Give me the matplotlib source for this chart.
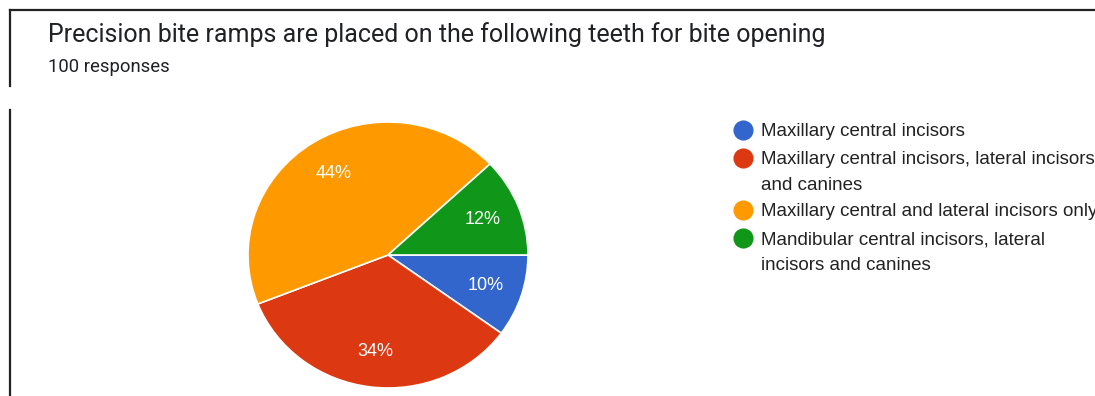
import matplotlib
matplotlib.use("Agg")
import matplotlib.pyplot as plt
from matplotlib.lines import Line2D

W, H = 1095, 396
title = "Precision bite ramps are placed on the following teeth for bite opening"
subtitle = "100 responses"
categories = [
    "Maxillary central incisors",
    "Maxillary central incisors, lateral incisors\nand canines",
    "Maxillary central and lateral incisors only",
    "Mandibular central incisors, lateral\nincisors and canines",
]
values = [10, 34, 44, 12]
colors = ["#3366cc", "#dc3912", "#ff9900", "#109618"]

fig = plt.figure(figsize=(W / 100, H / 100), dpi=100)

def fx(px):
    return px / W

def fy(py):
    return 1 - py / H

# frame lines
fig.add_artist(Line2D([fx(10), fx(W)], [fy(10), fy(10)], color="#222222", lw=1.6))
fig.add_artist(Line2D([fx(10), fx(10)], [fy(10), fy(86)], color="#222222", lw=1.6))
fig.add_artist(Line2D([fx(10), fx(10)], [fy(110), fy(H)], color="#222222", lw=1.6))

fig.text(fx(48), fy(35), title, fontsize=18, family="Roboto", color="#202124", va="center", ha="left")
fig.text(fx(48), fy(67), subtitle, fontsize=13.3, family="Roboto", color="#202124", va="center", ha="left")

# pie axes
l, r, t, b = 248, 528, 122, 388
ax = fig.add_axes([fx(l), fy(b), fx(r - l), (b - t) / H])
wedges, texts, autotexts = ax.pie(
    values, colors=colors, startangle=0, counterclock=False,
    autopct=lambda p: f"{p:.0f}%", pctdistance=0.73,
    wedgeprops=dict(edgecolor="white", linewidth=1.2),
    textprops=dict(color="white", fontsize=13, family="Liberation Sans"),
)
ax.set_aspect("auto")
ax.set_xlim(-1, 1)
ax.set_ylim(-1, 1)
ax.axis("off")

# legend
ys = [130, 158, 210, 238]
line_gap = 25
for y, c, lab in zip(ys, colors, categories):
    fig.add_artist(Line2D([fx(743)], [fy(y)], marker="o", markersize=13.5, color=c, lw=0))
    for i, line in enumerate(lab.split("\n")):
        fig.text(fx(761), fy(y + i * line_gap), line, fontsize=13.5, family="Liberation Sans",
                 color="#222222", va="center_baseline", ha="left")

fig.savefig("out.png", dpi=100)
